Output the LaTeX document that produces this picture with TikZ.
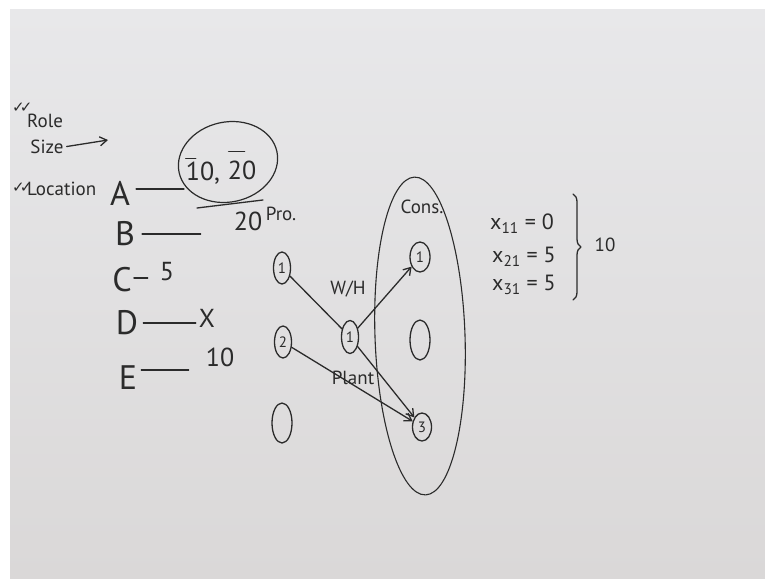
\documentclass[tikz,border=0pt]{standalone}
\usepackage{fontspec}
\setmainfont{PT Sans}
\newfontfamily\symfont{DejaVu Sans}
\usetikzlibrary{shapes.geometric,arrows.meta,decorations.pathreplacing}
\definecolor{ink}{HTML}{2B2B2B}
\definecolor{boardtop}{HTML}{E8E8EA}
\definecolor{boardmid}{HTML}{F1F1F3}
\definecolor{boardbot}{HTML}{DAD8D8}
\begin{document}
\begin{tikzpicture}[x=1pt,y=-1pt,
  inkline/.style={draw=ink, line width=1.3pt, line cap=round, line join=round},
  hand/.style={text=ink, inner sep=0pt},
  lbl/.style={hand, font=\fontsize{19}{19}\selectfont},
  letter/.style={hand, font=\fontsize{34}{34}\selectfont},
  num/.style={hand, font=\fontsize{26}{26}\selectfont},
  eq/.style={hand, anchor=west, font=\fontsize{22}{22}\selectfont},
  ticks/.style={hand, anchor=west, font=\symfont\fontsize{15}{15}\selectfont},
  dot/.style={ellipse, draw=ink, line width=1.3pt, inner sep=0pt, text=ink,
              font=\fontsize{15}{15}\selectfont},
  tip/.style={-{Straight Barb[length=7pt,width=9pt,line width=1.3pt]}}
]
% board
\useasboundingbox (0,0) rectangle (765,578);
\fill[white] (0,0) rectangle (765,578);
\shade[top color=boardtop, middle color=boardmid, bottom color=boardbot]
  (10,10) rectangle (765,578);

% checklist at the top left
\node[ticks] (chk1) at (12,108) {✓\kern-5pt✓};
\node[lbl, anchor=west] (role) at (27,121) {Role};
\node[lbl] (size) at (47,147) {Size};
\coordinate (sizetip) at (108,140);
\draw[inkline, tip, shorten <=3pt] (size.east) -- (sizetip);
\node[ticks] (chk2) at (12,188) {✓\kern-5pt✓};
\node[lbl, anchor=west] (loc) at (27,189) {Location};

% candidate locations
\node[letter] (A) at (120,193) {A};
\node[letter] (B) at (125,234) {B};
\node[letter] (C) at (122,280) {C};
\node[letter] (D) at (127,323) {D};
\node[letter] (E) at (128,378) {E};

% capacities
\node[ellipse, draw=ink, line width=1.2pt, minimum width=100pt, minimum height=80pt,
      rotate=12] (grp) at (228,162) {};
\node[num] (t10) at (203,173) {10,};
\node[num] (t20) at (242,170) {20};
\draw[inkline] ([yshift=3pt]t10.north west) -- ++(10,0);
\draw[inkline] ([yshift=9pt,xshift=1pt]t20.north west) -- ++(16,0);
\coordinate (aend) at (184,189);
\draw[inkline, shorten <=6pt] (A.east |- aend) -- (aend);
\draw[inkline] (197,208) -- (263,200);

\node[num] (v20) at (248,221) {20};
\node[lbl] (pro) at (281,214) {Pro.};
\draw[inkline, shorten <=7pt, shorten >=33pt] (B.east) -- (B.east -| v20.west);

\node[num] (v5) at (167,272) {5};
\draw[inkline, shorten <=2pt, shorten >=12pt] ([yshift=2pt]C.east) -- ([yshift=2pt]C.east -| v5.west);

\node[num] (vx) at (207,318) {X};
\draw[inkline, shorten <=5pt, shorten >=3pt] (D.east) -- (D.east -| vx.west);

\node[num] (v10) at (220,357) {10};
\draw[inkline, shorten <=4pt, shorten >=17pt] ([yshift=8pt]E.east) -- ([yshift=8pt]E.east -| v10.west);

% producers
\node[dot, minimum width=17pt, minimum height=32pt] (p1) at (282,268) {1};
\node[dot, minimum width=17pt, minimum height=32pt] (p2) at (283,342) {2};
\node[dot, minimum width=20pt, minimum height=40pt] (p3) at (282,423) {};

% warehouse / plant
\node[dot, minimum width=17pt, minimum height=33pt] (w1) at (350,337) {1};
\node[lbl] (wh) at (348,289) {W/H};
\node[lbl] (plant) at (353,378) {Plant};

% consumers
\node[ellipse, draw=ink, line width=1.1pt, minimum width=90pt, minimum height=318pt,
      rotate=2] (cons) at (420,336) {};
\node[lbl] (conslbl) at (422,207) {Cons.};
\node[dot, minimum width=20pt, minimum height=30pt] (c1) at (420,257) {1};
\node[dot, minimum width=20pt, minimum height=40pt] (c2) at (420,340) {};
\node[dot, minimum width=19pt, minimum height=28pt] (c3) at (422,427) {3};

% flows
\draw[inkline] (p1) -- (w1);
\draw[inkline, tip] (w1) -- (c1);
\draw[inkline, tip] (w1) -- (c3);
\draw[inkline, tip] (p2) -- (c3);

% allocation
\node[eq] (e1) at (490,224) {x\textsubscript{11}\hspace{6pt}= 0};
\node[eq] (e2) at (492,257) {x\textsubscript{21} = 5};
\node[eq] (e3) at (492,285) {x\textsubscript{31} = 5};
\draw[inkline, decorate, decoration={brace, amplitude=8pt}] (573,194) -- (573,300);
\node[lbl] (tot) at (605,245) {10};
\end{tikzpicture}
\end{document}
